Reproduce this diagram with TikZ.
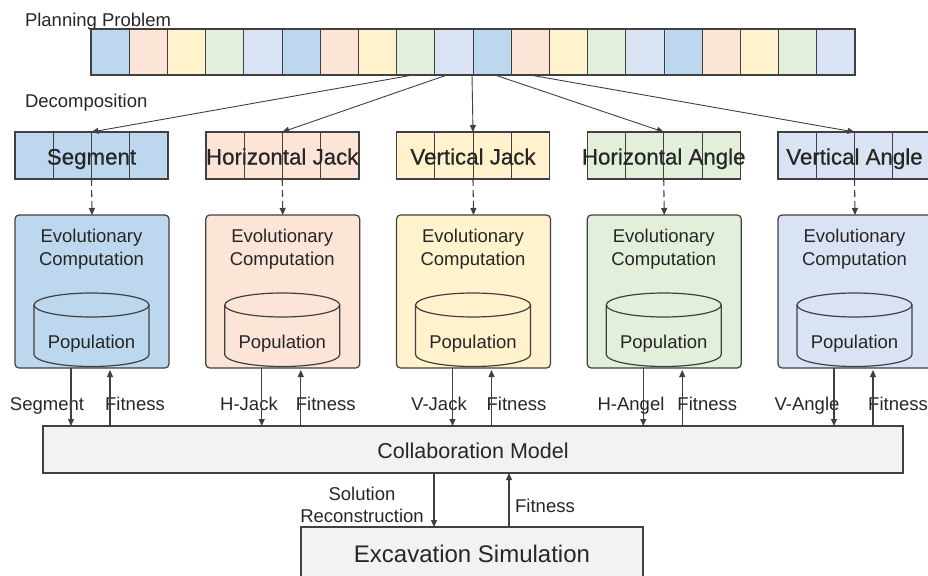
\documentclass[tikz,border=0pt]{standalone}
\usepackage{fontspec}
\setmainfont{Liberation Sans}
\usetikzlibrary{arrows.meta,calc}
\definecolor{cblue}{HTML}{BDD7EE}
\definecolor{cpink}{HTML}{FCE4D6}
\definecolor{cyel}{HTML}{FFF2CC}
\definecolor{cgreen}{HTML}{E2EFDA}
\definecolor{clblue}{HTML}{DAE3F3}
\definecolor{cgray}{HTML}{F2F2F2}
\definecolor{linec}{HTML}{404040}
\definecolor{txtc}{HTML}{262626}
\colorlet{col0}{cblue}
\colorlet{col1}{cpink}
\colorlet{col2}{cyel}
\colorlet{col3}{cgreen}
\colorlet{col4}{clblue}
\newcommand\fsLbl{\fontsize{18.5}{22}\selectfont}
\newcommand\fsSeg{\fontsize{22.3}{24}\selectfont\addfontfeature{FakeBold=0.6}}
\newcommand\fsBig{\fontsize{21.5}{24}\selectfont}
\newcommand\fsExc{\fontsize{24}{28}\selectfont}
\begin{document}
\begin{tikzpicture}[x=1pt,y=-1pt,
  every node/.style={text=txtc, inner sep=0pt, outer sep=0pt},
  cell/.style={draw=linec, line width=0.9pt},
  outline/.style={draw=linec, line width=1.5pt},
  arr/.style={draw=linec, line width=1.1pt, -{Triangle[length=7pt,width=6pt]}},
  dasharr/.style={arr, dash pattern=on 7pt off 4pt},
  lbl/.style={font=\fsLbl, anchor=base},
  ecbox/.style={draw=linec, line width=1.2pt, rounded corners=4pt, minimum width=154pt, minimum height=153pt, anchor=north west},
  flatbox/.style={draw=linec, line width=1.3pt, fill=cgray, anchor=north west}
]
\useasboundingbox (0,0) rectangle (928,575);

% titles
\node[lbl, anchor=base west] (tplan) at (25,27) {Planning Problem};
\node[lbl, anchor=base west] (tdec) at (25,108) {Decomposition};

% planning problem bar
\foreach \i in {0,...,19}{
  \pgfmathtruncatemacro\m{mod(\i,5)}
  \node[cell, fill=col\m, minimum width=38.2pt, minimum height=46pt, anchor=north west] (p\i) at ({91+38.2*\i},29) {};
}
\draw[outline] (p0.north west) rectangle (p19.south east);

\coordinate (s0) at (413,75);
\coordinate (s1) at (447,75);
\coordinate (s2) at (472,75);
\coordinate (s3) at (495,75);
\coordinate (s4) at (530,75);

% columns
\foreach \k/\name/\dn/\dnx in {0/Segment/Segment/47, 1/Horizontal Jack/H-Jack/249, 2/Vertical Jack/V-Jack/439, 3/Horizontal Angle/H-Angel/631, 4/Vertical Angle/V-Angle/807}{
  \pgfmathsetmacro\L{15+190.75*\k}
  \pgfmathsetmacro\cx{\L+76.5}
  % decomposed chromosome
  \foreach \j in {0,...,3}{
    \draw[cell, fill=col\k] ({\L+38.25*\j},132) rectangle ++(38.25,47);
  }
  \node[outline, minimum width=153pt, minimum height=47pt, anchor=north west] (seg\k) at (\L,132) {};
  \node[font=\fsSeg, anchor=base] (segt\k) at (\cx,164.5) {\name};
  \draw[arr, line width=0.9pt] (s\k) -- (seg\k.north);
  % EC box
  \node[ecbox, fill=col\k] (ec\k) at (\L,215) {};
  \node[lbl] (ect\k) at (\cx,242) {Evolutionary};
  \node[lbl] (ecu\k) at (\cx,265) {Computation};
  % cylinder
  \draw[cell, line width=1.2pt, fill=col\k] (\cx-57.5,305) -- (\cx-57.5,354.5) arc[start angle=180, end angle=360, x radius=57.5pt, y radius=12pt] -- (\cx+57.5,305);
  \draw[cell, line width=1.2pt, fill=col\k] (\cx,305) ellipse[x radius=57.5pt, y radius=12pt];
  \node[lbl] (pop\k) at (\cx,348) {Population};
  \draw[dasharr] (seg\k.south) -- (ec\k.north);
  % labels
  \node[lbl] (dl\k) at (\dnx,410) {\dn};
  \node[lbl] (fl\k) at ({\L+120},410) {Fitness};
}

% collaboration model
\node[flatbox, minimum width=860pt, minimum height=47pt] (collab) at (43,426) {};
\node[font=\fsBig, anchor=base] (collabt) at (473,458) {Collaboration Model};

\foreach \k in {0,...,4}{
  \draw[arr] ([xshift=56pt]ec\k.south west) -- ([xshift=56pt]ec\k.south west |- collab.north);
  \draw[arr] ([xshift=95pt]ec\k.south west |- collab.north) -- ([xshift=95pt,yshift=-2pt]ec\k.south west);
}

% excavation simulation
\node[flatbox, minimum width=342pt, minimum height=60pt] (exc) at (301,527) {};
\node[font=\fsExc, anchor=base] (exct) at (472,562) {Excavation Simulation};

\coordinate (xd) at (434,0);
\coordinate (xu) at (509,0);
\draw[arr] (collab.south -| xd) -- (exc.north -| xd);
\draw[arr] (exc.north -| xu) -- (collab.south -| xu);
\node[lbl] (solt) at (362,500) {Solution};
\node[lbl] (solr) at (362,522) {Reconstruction};
\node[lbl] (fitb) at (545,512) {Fitness};
\end{tikzpicture}
\end{document}
